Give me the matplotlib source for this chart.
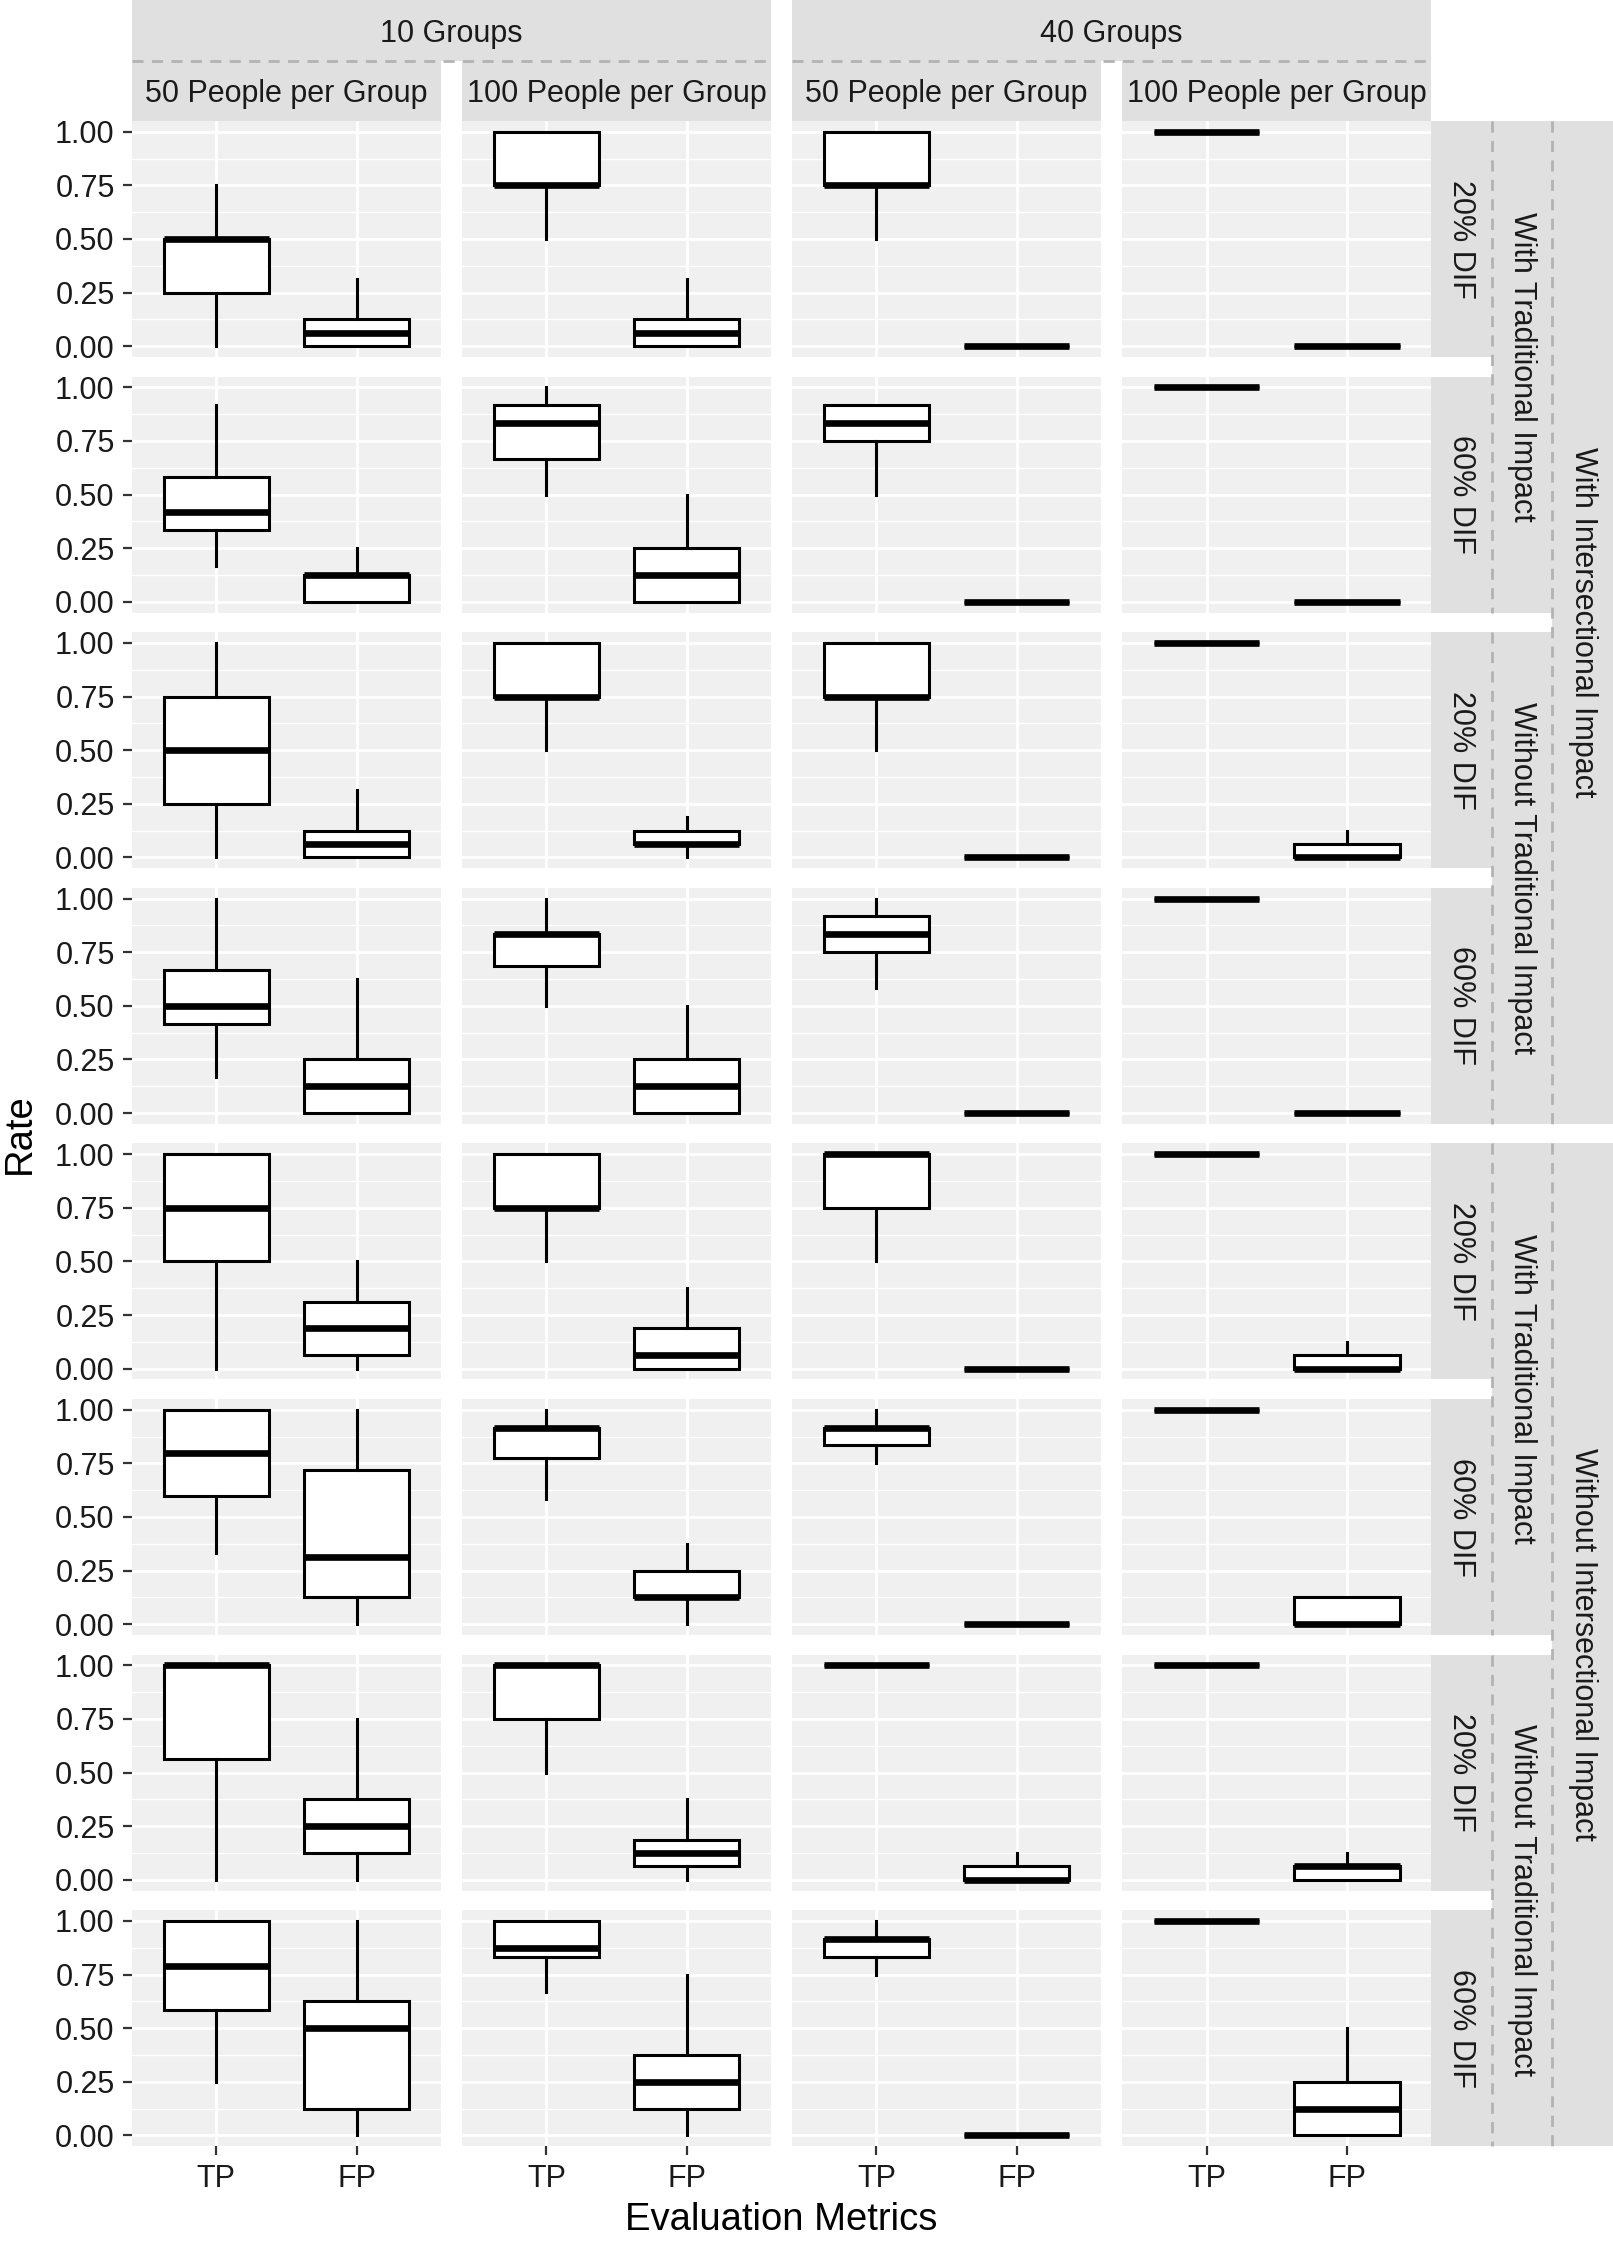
import matplotlib
matplotlib.use("Agg")
import matplotlib.pyplot as plt
from matplotlib.lines import Line2D

plt.rcParams['font.family'] = ['Liberation Sans', 'DejaVu Sans']

metrics = ["TP", "FP"]
group_levels = ["10 Groups", "40 Groups"]
size_levels = ["50 People per Group", "100 People per Group"]
dif_levels = ["20% DIF", "60% DIF"]
trad_levels = ["With Traditional Impact", "Without Traditional Impact"]
inter_levels = ["With Intersectional Impact", "Without Intersectional Impact"]

# five number summaries: [lower whisker, Q1, median, Q3, upper whisker]
# one row per panel row (top to bottom), one entry per panel column
tp_box = [
    [[0, .25, .5, .5, .75], [.5, .75, .75, 1, 1], [.5, .75, .75, 1, 1], [1, 1, 1, 1, 1]],
    [[.1667, .3333, .4167, .5833, .9167], [.5, .6667, .8333, .9167, 1], [.5, .75, .8333, .9167, .9167], [1, 1, 1, 1, 1]],
    [[0, .25, .5, .75, 1], [.5, .75, .75, 1, 1], [.5, .75, .75, 1, 1], [1, 1, 1, 1, 1]],
    [[.1667, .4167, .5, .6667, 1], [.5, .6875, .8333, .8333, 1], [.5833, .75, .8333, .9167, 1], [1, 1, 1, 1, 1]],
    [[0, .5, .75, 1, 1], [.5, .75, .75, 1, 1], [.5, .75, 1, 1, 1], [1, 1, 1, 1, 1]],
    [[.3333, .6, .8, 1, 1], [.5833, .775, .9167, .9167, 1], [.75, .8333, .9167, .9167, 1], [1, 1, 1, 1, 1]],
    [[0, .5625, 1, 1, 1], [.5, .75, 1, 1, 1], [1, 1, 1, 1, 1], [1, 1, 1, 1, 1]],
    [[.25, .5833, .7917, 1, 1], [.6667, .8333, .875, 1, 1], [.75, .8333, .9167, .9167, 1], [1, 1, 1, 1, 1]],
]
fp_box = [
    [[0, 0, .0625, .125, .3125], [0, 0, .0625, .125, .3125], [0, 0, 0, 0, 0], [0, 0, 0, 0, 0]],
    [[0, 0, .125, .125, .25], [0, 0, .125, .25, .5], [0, 0, 0, 0, 0], [0, 0, 0, 0, 0]],
    [[0, 0, .0625, .125, .3125], [0, .0625, .0625, .125, .1875], [0, 0, 0, 0, 0], [0, 0, 0, .0625, .125]],
    [[0, 0, .125, .25, .625], [0, 0, .125, .25, .5], [0, 0, 0, 0, 0], [0, 0, 0, 0, 0]],
    [[0, .0625, .1875, .3125, .5], [0, 0, .0625, .1875, .375], [0, 0, 0, 0, 0], [0, 0, 0, .0625, .125]],
    [[0, .125, .3125, .7188, 1], [0, .125, .125, .25, .375], [0, 0, 0, 0, 0], [0, 0, 0, .125, .125]],
    [[0, .125, .25, .375, .75], [0, .0625, .125, .1875, .375], [0, 0, 0, .0625, .125], [0, 0, .0625, .0625, .125]],
    [[0, .125, .5, .625, 1], [0, .125, .25, .375, .75], [0, 0, 0, 0, 0], [0, 0, .125, .25, .5]],
]

W, H = 1613, 2245
fig = plt.figure(figsize=(W / 100, H / 100), dpi=100)


def fr(x0, y0, x1, y1):
    # pixel box (from top left) -> figure fraction rect
    return [x0 / W, 1 - y1 / H, (x1 - x0) / W, (y1 - y0) / H]


pan_w, pan_gap = 308.8, 21.3
pan_h, row_step = 236, 255.6
left0, top0 = 132, 121
col_x = [left0 + c * (pan_w + pan_gap) for c in range(4)]
row_y = [top0 + r * row_step for r in range(8)]
right_edge = col_x[-1] + pan_w
bottom_edge = row_y[-1] + pan_h
strip_w = 60.6
strip_h = top0 / 2

strip_col = '#DFE0DF'
txt_col = '#1a1a1a'
nest_col = '#B3B3B3'
small_fs = 22
title_fs = 27.5


def strip(x0, y0, x1, y1, label, rot=0):
    sa = fig.add_axes(fr(x0, y0, x1, y1))
    sa.set_facecolor(strip_col)
    sa.set_xticks([])
    sa.set_yticks([])
    for s in sa.spines.values():
        s.set_visible(False)
    va = 'center_baseline' if rot == 0 else 'center'
    sa.text(0.5, 0.5, label, rotation=rot, ha='center', va=va,
            transform=sa.transAxes, fontsize=small_fs, color=txt_col)
    return sa


def nest_line(xs, ys):
    fig.add_artist(Line2D([x / W for x in xs], [1 - y / H for y in ys],
                          transform=fig.transFigure, color=nest_col, lw=2,
                          linestyle=(0, (4, 3)), zorder=5))


# top strips
for g in range(2):
    x0 = col_x[2 * g]
    x1 = col_x[2 * g + 1] + pan_w
    strip(x0, 0, x1, strip_h, group_levels[g])
    nest_line([x0, x1], [strip_h, strip_h])
    for s in range(2):
        c = 2 * g + s
        strip(col_x[c], strip_h, col_x[c] + pan_w, top0, size_levels[s])

# right strips
for r in range(8):
    strip(right_edge, row_y[r], right_edge + strip_w, row_y[r] + pan_h, dif_levels[r % 2], rot=-90)
for k in range(4):
    y0 = row_y[2 * k]
    y1 = row_y[2 * k + 1] + pan_h
    x0 = right_edge + strip_w
    strip(x0, y0, x0 + strip_w, y1, trad_levels[k % 2], rot=-90)
    nest_line([x0, x0], [y0, y1])
for k in range(2):
    y0 = row_y[4 * k]
    y1 = row_y[4 * k + 3] + pan_h
    x0 = right_edge + 2 * strip_w
    strip(x0, y0, W, y1, inter_levels[k], rot=-90)
    nest_line([x0, x0], [y0, y1])

# panels
for r in range(8):
    for c in range(4):
        ax = fig.add_axes(fr(col_x[c], row_y[r], col_x[c] + pan_w, row_y[r] + pan_h))
        ax.set_facecolor('#F0F0F0')
        stats = []
        for m, box in zip(metrics, [tp_box[r][c], fp_box[r][c]]):
            lo, q1, med, q3, hi = box
            stats.append(dict(whislo=lo, q1=q1, med=med, q3=q3, whishi=hi, label=m))
        ax.bxp(stats, positions=[1, 2], widths=0.75, showfliers=False, showcaps=False,
               patch_artist=True,
               boxprops=dict(facecolor='white', edgecolor='black', linewidth=2.2),
               whiskerprops=dict(color='black', linewidth=2.2),
               medianprops=dict(color='black', linewidth=4.8, solid_capstyle='butt'))
        ax.set_xlim(0.4, 2.6)
        ax.set_ylim(-0.05, 1.05)
        ax.set_xticks([1, 2], metrics)
        ax.set_yticks([0, .25, .5, .75, 1], ['0.00', '0.25', '0.50', '0.75', '1.00'])
        ax.set_yticks([.125, .375, .625, .875], minor=True)
        ax.set_axisbelow(True)
        ax.grid(which='major', color='white', linewidth=2)
        ax.grid(which='minor', axis='y', color='white', linewidth=1)
        for s in ax.spines.values():
            s.set_visible(False)
        ax.tick_params(which='minor', length=0)
        ax.tick_params(which='major', colors='#333333', width=1.6, length=6.5,
                       labelsize=small_fs, labelcolor=txt_col, pad=6)
        if c != 0:
            ax.tick_params(axis='y', length=0, labelleft=False)
        if r != 7:
            ax.tick_params(axis='x', length=0, labelbottom=False)

fig.text(20 / W, 1 - (top0 + bottom_edge) / 2 / H, 'Rate', rotation=90,
         ha='center', va='center', fontsize=title_fs, color='black')
fig.text((left0 + right_edge) / 2 / W, 1 - 2220 / H, 'Evaluation Metrics',
         ha='center', va='center', fontsize=title_fs, color='black')

fig.savefig('out.png', dpi=100)
